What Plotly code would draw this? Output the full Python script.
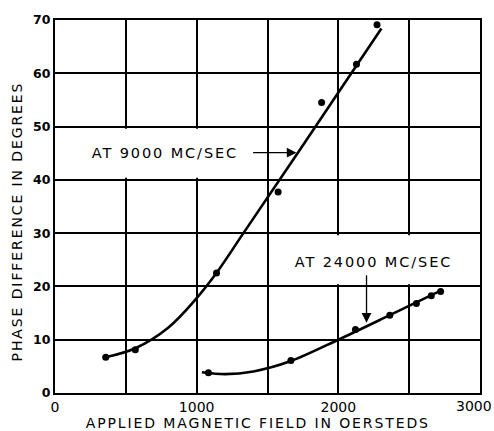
import plotly.graph_objects as go

# ---- data ----
# measured points, 9000 Mc/sec
field_9000 = [358, 567, 1140, 1575, 1882, 2128, 2273]
phase_9000 = [6.7, 8.1, 22.5, 37.7, 54.5, 61.7, 69.1]
# drawn (faired) curve, 9000 Mc/sec
curve_field_9000 = [356, 567, 801, 1000, 1142, 1330, 1717, 2304]
curve_phase_9000 = [6.7, 8.4, 12.3, 17.8, 22.6, 30.0, 45.2, 68.4]

# measured points, 24000 Mc/sec
field_24000 = [1083, 1665, 2121, 2363, 2551, 2656, 2722]
phase_24000 = [3.8, 6.1, 11.9, 14.6, 16.8, 18.25, 19.05]
# drawn (faired) curve, 24000 Mc/sec
curve_field_24000 = [1037, 1200, 1400, 1665, 2000, 2363, 2738]
curve_phase_24000 = [3.9, 3.55, 4.05, 6.0, 10.0, 14.6, 19.4]

x_tickvals = [0, 500, 1000, 1500, 2000, 2500, 3000]
x_ticktext = ["0", "", "1000", "", "2000", "", "3000"]
y_tickvals = [0, 10, 20, 30, 40, 50, 60, 70]
y_ticktext = ["0", "10", "20", "30", "40", "50", "60", "70"]

label_9000 = "AT 9000 MC/SEC"
label_24000 = "AT 24000 MC/SEC"
x_title = "APPLIED MAGNETIC FIELD IN OERSTEDS"
y_title = "PHASE DIFFERENCE IN DEGREES"

FONT = "DejaVu Sans"

fig = go.Figure()

fig.add_trace(go.Scatter(x=curve_field_9000, y=curve_phase_9000, mode="lines",
                         line=dict(color="black", width=2.6, shape="spline", smoothing=1.0),
                         hoverinfo="skip", showlegend=False))
fig.add_trace(go.Scatter(x=field_9000, y=phase_9000, mode="markers",
                         marker=dict(color="black", size=7), showlegend=False))
fig.add_trace(go.Scatter(x=curve_field_24000, y=curve_phase_24000, mode="lines",
                         line=dict(color="black", width=2.6, shape="spline", smoothing=0.9),
                         hoverinfo="skip", showlegend=False))
fig.add_trace(go.Scatter(x=field_24000, y=phase_24000, mode="markers",
                         marker=dict(color="black", size=7), showlegend=False))

# white boxes that interrupt the grid behind the labels
fig.add_shape(type="rect", x0=15, x1=1420, y0=40.4, y1=49.6, xref="x", yref="y",
              fillcolor="white", line=dict(width=0), layer="between")
fig.add_shape(type="rect", x0=1580, x1=2980, y0=20.4, y1=29.6, xref="x", yref="y",
              fillcolor="white", line=dict(width=0), layer="between")

# the last x tick label is drawn as an annotation, nudged left so it stays inside the page
last_tick_x = x_tickvals[-1]
last_tick_text = x_ticktext[-1]
axis_ticktext = x_ticktext[:-1] + [""]

annos = [
    dict(x=778, y=45.0, xref="x", yref="y", text=label_9000, showarrow=False,
         font=dict(family=FONT, size=14.5, color="black")),
    dict(x=1705, y=45.1, ax=1388, ay=45.1, xref="x", yref="y", axref="x", ayref="y",
         text="", showarrow=True, arrowhead=2, arrowsize=1.5, arrowwidth=1.3,
         arrowcolor="black"),
    dict(x=2245, y=24.5, xref="x", yref="y", text=label_24000, showarrow=False,
         font=dict(family=FONT, size=14.5, color="black")),
    dict(x=2199, y=13.2, ax=2199, ay=22.4, xref="x", yref="y", axref="x", ayref="y",
         text="", showarrow=True, arrowhead=2, arrowsize=1.5, arrowwidth=1.3,
         arrowcolor="black"),
    dict(x=0.478, y=-0.080, xref="paper", yref="paper", text=x_title, showarrow=False,
         xanchor="center", yanchor="middle",
         font=dict(family=FONT, size=14, color="black")),
    dict(x=-0.090, y=0.461, xref="paper", yref="paper", text=y_title, showarrow=False,
         textangle=-90, xanchor="center", yanchor="middle",
         font=dict(family=FONT, size=14, color="black")),
    dict(x=last_tick_x, y=0, xref="x", yref="paper", text=last_tick_text, showarrow=False,
         xanchor="center", yanchor="middle", xshift=-6, yshift=-13,
         font=dict(family=FONT, size=14, color="black")),
]

fig.update_layout(
    width=494, height=431, autosize=False,
    margin=dict(l=55, r=14, t=16, b=38, pad=0),
    paper_bgcolor="white", plot_bgcolor="white",
    annotations=annos,
    xaxis=dict(range=[0, 3000], tickvals=x_tickvals, ticktext=axis_ticktext,
               showgrid=True, gridcolor="black", gridwidth=1.6,
               showline=True, linecolor="black", linewidth=2.2, mirror=True,
               ticks="", zeroline=False, fixedrange=True,
               tickfont=dict(family=FONT, size=14, color="black")),
    yaxis=dict(range=[0, 70], tickvals=y_tickvals, ticktext=y_ticktext,
               showgrid=True, gridcolor="black", gridwidth=1.6,
               showline=True, linecolor="black", linewidth=2.2, mirror=True,
               ticks="", zeroline=False, fixedrange=True,
               tickfont=dict(family=FONT, size=12.5, color="black", weight="bold")),
)

post = """
(function(){
  document.body.style.margin = '0';
  document.body.style.padding = '0';
  document.body.style.overflow = 'hidden';
  var gd = document.getElementById('{plot_id}');
  function ls(){
    gd.querySelectorAll('.annotation-text').forEach(function(t){
      if (t.textContent.length > 4) { t.style.letterSpacing = '1.9px'; }
    });
  }
  ls();
  if (gd && gd.on) { gd.on('plotly_afterplot', ls); }
})();
"""

fig.write_html("out.html", post_script=post, config={"displayModeBar": False})
